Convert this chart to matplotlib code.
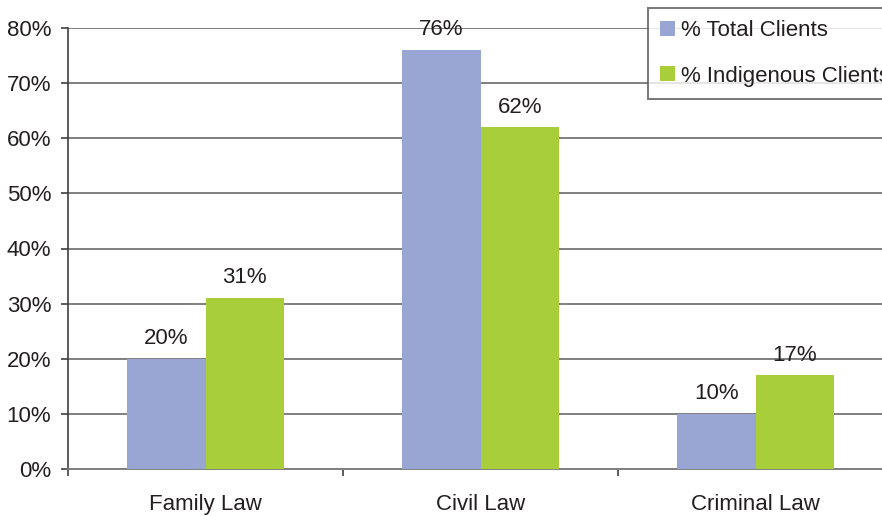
import numpy as np
import matplotlib.pyplot as plt
from matplotlib.ticker import FixedLocator, PercentFormatter

plt.rcParams['font.family'] = ['Liberation Sans', 'DejaVu Sans']

# ---- data ----
categories = ["Family Law", "Civil Law", "Criminal Law"]
total_clients = [20, 76, 10]
indigenous_clients = [31, 62, 17]
series_names = ["% Total Clients", "% Indigenous Clients"]

blue = "#99a6d4"
green = "#a8cf39"
grid_col = "#7f7f7f"
text_col = "#231f20"
fs = 16

fig = plt.figure(figsize=(8.82, 5.16), dpi=100)
ax = fig.add_axes([68 / 882, 47 / 516, 825 / 882, 441 / 516])

x = np.arange(len(categories))
w = 0.285
b1 = ax.bar(x - w / 2, total_clients, w, color=blue, zorder=3, label=series_names[0])
b2 = ax.bar(x + w / 2, indigenous_clients, w, color=green, zorder=3, label=series_names[1])

for bars, vals in ((b1, total_clients), (b2, indigenous_clients)):
    for rect, v in zip(bars, vals):
        ax.annotate(f"{v}%", (rect.get_x() + rect.get_width() / 2, v),
                    xytext=(0, 7), textcoords="offset points",
                    ha="center", va="bottom", fontsize=fs, color=text_col)

ax.set_xlim(-0.5, 2.5)
ax.set_ylim(0, 80)
ax.set_yticks(range(0, 81, 10))
ax.yaxis.set_major_formatter(PercentFormatter(decimals=0))
ax.yaxis.grid(True, color=grid_col, linewidth=1.4, zorder=0)

ax.set_xticks(x)
ax.set_xticklabels(categories)
ax.xaxis.set_minor_locator(FixedLocator([-0.5, 0.5, 1.5, 2.5]))
ax.tick_params(axis="x", which="major", length=0, pad=18, labelsize=fs, labelcolor=text_col)
ax.tick_params(axis="x", which="minor", length=5, width=1.2, color="#404040")
ax.tick_params(axis="y", length=5, width=1.2, color="#404040", pad=7,
               labelsize=fs, labelcolor=text_col)

for s in ("top", "right"):
    ax.spines[s].set_visible(False)
ax.spines["left"].set_color("#404040")
ax.spines["left"].set_linewidth(1.2)
ax.spines["bottom"].set_color(grid_col)
ax.spines["bottom"].set_linewidth(1.4)

# legend box runs off the right edge of the figure
leg = fig.legend(handles=[b1, b2], loc="upper left",
                 bbox_to_anchor=(648 / 882, 1 - 8 / 516),
                 bbox_transform=fig.transFigure,
                 fontsize=fs, frameon=True, fancybox=False,
                 handlelength=0.65, handleheight=0.65, handletextpad=0.3,
                 labelspacing=1.1, borderpad=0.55, borderaxespad=0)
leg.get_frame().set_edgecolor("#555555")
leg.get_frame().set_linewidth(1.4)
for t in leg.get_texts():
    t.set_color(text_col)

fig.savefig("out.png", dpi=100)
